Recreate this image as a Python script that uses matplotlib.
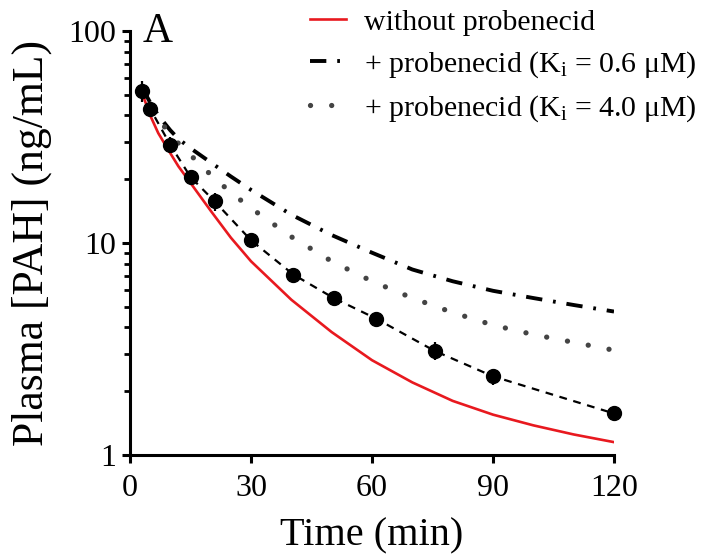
import numpy as np
import matplotlib
matplotlib.use('Agg')
import matplotlib.pyplot as plt

plt.rcParams['font.family'] = ['Liberation Serif', 'DejaVu Serif']
plt.rcParams['mathtext.fontset'] = 'custom'
plt.rcParams['mathtext.rm'] = 'Liberation Serif'
plt.rcParams['mathtext.it'] = 'Liberation Serif:italic'

# model curves (min, ng/mL)
t_model = [3, 5, 7, 10, 12, 15, 20, 25, 30, 40, 50, 60, 70, 80, 90, 100, 110, 120]
no_prob = [51, 40, 33, 26.5, 23, 19.2, 14.2, 10.6, 8.2, 5.4, 3.8, 2.8, 2.2, 1.8, 1.55, 1.38, 1.25, 1.15]
ki_06 = [54, 46, 40, 34, 31, 28, 24, 20.6, 17.8, 13.6, 10.9, 9.0, 7.5, 6.6, 5.95, 5.5, 5.1, 4.75]
ki_40 = [52, 44, 38, 33, 29.5, 26, 21, 17.3, 14.6, 10.7, 8.2, 6.6, 5.5, 4.7, 4.1, 3.7, 3.4, 3.12]

# observed data
t_obs = [3, 5, 10, 15, 21, 30, 40.5, 50.5, 61, 75.5, 90, 120]
obs = [52, 43, 29, 20.5, 15.7, 10.3, 7.1, 5.5, 4.4, 3.1, 2.35, 1.57]
obs_err = [6, 3, 2.5, 1, 1.5, 0.6, 0.5, 0.3, 0.3, 0.3, 0.2, 0.1]

fig = plt.figure(figsize=(7.09, 5.58), dpi=100)
ax = fig.add_axes([130/709, 1-455/558, (614-130)/709, (455-31)/558])

ax.plot(t_model, no_prob, color='#e8191f', lw=1.9, label='without probenecid', zorder=3)
ax.plot(t_model, ki_06, color='black', lw=2.8, ls=(0, (4.2, 2.8, 0.7, 2.8)),
        label='+ probenecid (K$_\\mathrm{i}$ = 0.6 \u03bcM)', zorder=3)
ax.plot(t_model, ki_40, color='#444444', lw=3.8, ls=(0, (0.01, 4.0)),
        dash_capstyle='round', label='+ probenecid (K$_\\mathrm{i}$ = 4.0 \u03bcM)', zorder=3)
ax.plot(t_obs, obs, color='black', lw=1.6, ls=(0, (3.5, 3)), zorder=4, clip_on=False)
ax.errorbar(t_obs, obs, yerr=obs_err, fmt='o', color='black', ms=10, elinewidth=1.6,
            capsize=0, zorder=5, clip_on=False)

ax.set_yscale('log')
ax.set_xlim(0, 120)
ax.set_ylim(1, 100)
ax.set_xticks([0, 30, 60, 90, 120])
ax.set_yticks([1, 10, 100])
ax.set_yticklabels(['1', '10', '100'])

for s in ['top', 'right']:
    ax.spines[s].set_visible(False)
for s in ['left', 'bottom']:
    ax.spines[s].set_linewidth(2.2)
ax.tick_params(axis='both', which='major', length=6, width=2.2, labelsize=23, pad=4)
ax.tick_params(axis='y', which='minor', length=4, width=2.0)
ax.tick_params(axis='x', pad=8)

ax.set_xlabel('Time (min)', fontsize=29, labelpad=10)
ax.set_ylabel('Plasma [PAH] (ng/mL)', fontsize=31.5, labelpad=12)

fig.text(143/709, 1-42/558, 'A', fontsize=30)

ax.legend(loc='upper left', bbox_to_anchor=(310/709, 1-9/558), bbox_transform=fig.transFigure,
          frameon=False, fontsize=21.5, handlelength=1.2, handletextpad=0.6,
          labelspacing=0.45, borderpad=0, borderaxespad=0)

fig.savefig('out.png', dpi=100)
